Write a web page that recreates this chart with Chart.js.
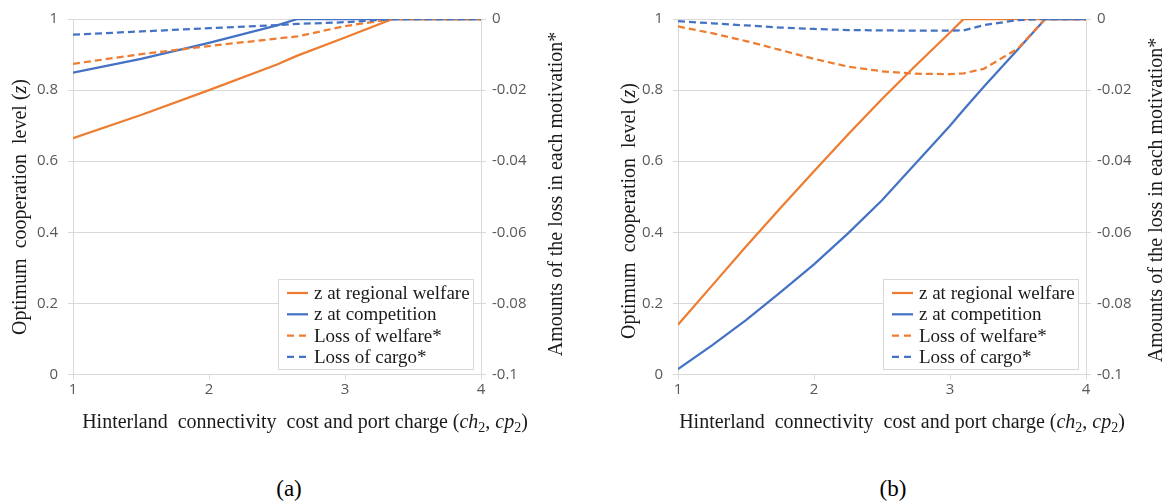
<!DOCTYPE html>
<html>
<head>
<meta charset="utf-8">
<script src="https://cdn.jsdelivr.net/npm/chart.js@4.4.1/dist/chart.umd.min.js"></script>
<style>
html,body{margin:0;padding:0;background:#fff;}
body{width:1168px;height:504px;position:relative;overflow:hidden;}
canvas{position:absolute;top:0;}
#ca{left:0;} #cb{left:584px;}
.cap{position:absolute;top:476px;font-family:'Liberation Serif','Times New Roman',serif;font-size:23px;color:#000;transform:translateX(-50%);line-height:26px;}
</style>
</head>
<body>
<canvas id="ca" width="584" height="445"></canvas>
<canvas id="cb" width="584" height="445"></canvas>
<div class="cap" style="left:289px">(a)</div>
<div class="cap" style="left:893px">(b)</div>
<script>
// ---- tick labels & series names ----
const xTickLabels = ['1', '2', '3', '4'];
const zTickLabels = ['0', '0.2', '0.4', '0.6', '0.8', '1'];
const lossTickLabels = ['-0.1', '-0.08', '-0.06', '-0.04', '-0.02', '0'];
const seriesNames = ['z at regional welfare', 'z at competition', 'Loss of welfare*', 'Loss of cargo*'];

// ---- chart (a) ----
const xA          = [1,       1.5,     2,       2.5,     2.65,    3,       3.35, 4];
const zWelfareA   = [0.665,   0.73,    0.80,    0.872,   0.897,   0.948,   1,    1];
const zCompA      = [0.849,   0.888,   0.933,   0.982,   1,       1,       1,    1];
const lossWelfA   = [-0.0126, -0.0099, -0.0076, -0.0055, -0.0049, -0.0020, 0,    0];
const lossCargoA  = [-0.0044, -0.0035, -0.0026, -0.0017, -0.0014, -0.0009, 0,    0];

// ---- chart (b) ----
const xB          = [1,       1.25,    1.5,     1.75,    2,       2.25,    2.5,     2.75,    3,       3.1,     3.25,    3.5,     3.7, 4];
const zWelfareB   = [0.14,    0.25,    0.36,    0.467,   0.572,   0.675,   0.775,   0.87,    0.962,   1,       1,       1,       1,   1];
const zCompB      = [0.015,   0.082,   0.153,   0.23,    0.31,    0.397,   0.49,    0.595,   0.70,    0.745,   0.81,    0.915,   1,   1];
const lossWelfB   = [-0.0021, -0.0040, -0.0062, -0.0087, -0.0112, -0.0134, -0.0147, -0.0154, -0.0155, -0.0153, -0.0140, -0.0083, 0,   0];
const lossCargoB  = [-0.0006, -0.0012, -0.0018, -0.0024, -0.0028, -0.0031, -0.0032, -0.0033, -0.0033, -0.0032, -0.0017, -0.0003, 0,   0];

const ORANGE = '#ED7D31';
const BLUE = '#4472C4';
const GRID = '#d9d9d9';
const TICK_COLOR = '#595959';
const SERIF = '"Liberation Serif","Times New Roman",serif';
const TICK_FONT = {family: '"Open Sans","Liberation Sans",sans-serif', size: 15};

function runFont(r, size) {
  const s = r.sub ? size * 0.7 : size;
  return (r.it ? 'italic ' : '') + s + 'px ' + SERIF;
}
function runsWidth(ctx, runs, size) {
  let w = 0;
  runs.forEach(r => { ctx.font = runFont(r, size); w += ctx.measureText(r.t).width; });
  return w;
}
function drawRuns(ctx, runs, size, cx, cy, rot) {
  ctx.save();
  ctx.translate(cx, cy);
  if (rot) ctx.rotate(rot);
  const w = runsWidth(ctx, runs, size);
  let x = -w / 2;
  ctx.textBaseline = 'middle';
  ctx.textAlign = 'left';
  ctx.fillStyle = '#1a1a1a';
  runs.forEach(r => {
    ctx.font = runFont(r, size);
    ctx.fillText(r.t, x, r.sub ? size * 0.28 : 0);
    x += ctx.measureText(r.t).width;
  });
  ctx.restore();
}

const xTitleRuns = [
  {t: 'Hinterland  connectivity  cost and port charge ('},
  {t: 'ch', it: true}, {t: '2', sub: true}, {t: ', '},
  {t: 'cp', it: true}, {t: '2', sub: true}, {t: ')'}
];
const yTitleRuns = [{t: 'Optimum  cooperation  level ('}, {t: 'z', it: true}, {t: ')'}];
const y1TitleRuns = [{t: 'Amounts of the loss in each motivation*'}];

function titlesPlugin(g) {
  return {
    id: 'titles',
    afterDraw(chart) {
      const ctx = chart.ctx;
      drawRuns(ctx, xTitleRuns, 20, g.xtx, g.xty, 0);
      drawRuns(ctx, yTitleRuns, 20, g.ytx, g.yty, -Math.PI / 2);
      drawRuns(ctx, y1TitleRuns, 20, g.y1tx, g.y1ty, -Math.PI / 2);
    }
  };
}

const boxLegend = {
  id: 'boxLegend',
  afterDatasetsDraw(chart) {
    const ctx = chart.ctx, a = chart.chartArea;
    const w = 195, h = 90;
    const x0 = Math.round(a.right - 8 - w), y0 = Math.round(a.bottom - 6 - h);
    ctx.save();
    ctx.fillStyle = '#fff';
    ctx.fillRect(x0, y0, w, h);
    ctx.strokeStyle = GRID;
    ctx.lineWidth = 1;
    ctx.strokeRect(x0 + 0.5, y0 + 0.5, w, h);
    chart.data.datasets.forEach((ds, i) => {
      const cy = y0 + 14 + i * 21.3;
      ctx.beginPath();
      ctx.strokeStyle = ds.borderColor;
      ctx.lineWidth = 2.25;
      ctx.setLineDash(ds.borderDash ? [7, 5] : []);
      ctx.moveTo(x0 + 9, cy);
      ctx.lineTo(x0 + 30, cy);
      ctx.stroke();
      ctx.setLineDash([]);
      ctx.font = '19px ' + SERIF;
      ctx.fillStyle = '#1a1a1a';
      ctx.textBaseline = 'middle';
      ctx.textAlign = 'left';
      ctx.fillText(ds.label, x0 + 36, cy + 1);
    });
    ctx.restore();
  }
};

function pts(xs, ys) { return xs.map((x, i) => ({x: x, y: ys[i]})); }

function makeChart(id, xs, zW, zC, lW, lC, g) {
  const ds = (label, data, color, dashed, axis, order) => ({
    label: label, data: pts(xs, data), borderColor: color, backgroundColor: color,
    borderWidth: 2.25, borderDash: dashed ? [7, 4] : undefined, yAxisID: axis,
    pointRadius: 0, tension: 0, fill: false, order: order
  });
  return new Chart(document.getElementById(id), {
    type: 'line',
    data: {
      datasets: [
        ds(seriesNames[0], zW, ORANGE, false, 'y', 4),
        ds(seriesNames[1], zC, BLUE, false, 'y', 3),
        ds(seriesNames[2], lW, ORANGE, true, 'y1', 2),
        ds(seriesNames[3], lC, BLUE, true, 'y1', 1)
      ]
    },
    options: {
      responsive: false,
      animation: false,
      devicePixelRatio: 1,
      layout: {padding: {left: 0, right: 0, top: 17, bottom: 0}},
      plugins: {legend: {display: false}, tooltip: {enabled: false}},
      scales: {
        x: {
          type: 'linear', min: 1, max: 4,
          ticks: {stepSize: 1, color: TICK_COLOR, font: TICK_FONT, padding: 1, maxRotation: 0,
                  callback: (v, i) => xTickLabels[i]},
          grid: {drawOnChartArea: false, drawTicks: true, tickLength: 5, color: GRID},
          border: {display: true, color: GRID},
          afterFit(s) { s.height = 445 - 374.5; }
        },
        y: {
          position: 'left', min: 0, max: 1,
          ticks: {stepSize: 0.2, color: TICK_COLOR, font: TICK_FONT, padding: 10,
                  callback: (v, i) => zTickLabels[i]},
          grid: {color: GRID, tickLength: 5},
          border: {display: true, color: GRID},
          afterFit(s) { s.width = g.left; }
        },
        y1: {
          position: 'right', min: -0.1, max: 0,
          ticks: {stepSize: 0.02, color: TICK_COLOR, font: TICK_FONT, padding: 6,
                  callback: (v, i) => lossTickLabels[i]},
          grid: {drawOnChartArea: false, tickLength: 5, color: GRID},
          border: {display: true, color: GRID},
          afterFit(s) { s.width = g.right; }
        }
      }
    },
    plugins: [boxLegend, titlesPlugin(g)]
  });
}

makeChart('ca', xA, zWelfareA, zCompA, lossWelfA, lossCargoA,
  {left: 73, right: 103, xtx: 305, xty: 423, ytx: 21, yty: 207, y1tx: 557, y1ty: 194});
makeChart('cb', xB, zWelfareB, zCompB, lossWelfB, lossCargoB,
  {left: 94, right: 82, xtx: 318, xty: 423, ytx: 46, yty: 211, y1tx: 573, y1ty: 200});
</script>
</body>
</html>
